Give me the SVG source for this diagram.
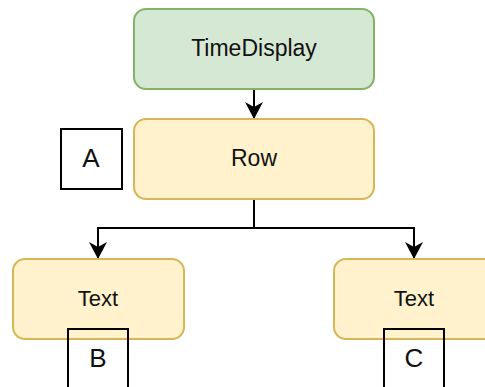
<svg xmlns="http://www.w3.org/2000/svg" width="485" height="387" viewBox="0 0 485 387">
  <style>
    .lbl { font-family: "Liberation Sans", Arial, sans-serif; fill: #111; text-anchor: middle; dominant-baseline: central; }
    .comp { stroke-width: 2; }
    .green { fill: #d5e8d4; stroke: #82b366; }
    .yellow { fill: #fff2cc; stroke: #d6b656; }
    .tag { fill: none; stroke: #000; stroke-width: 2; }
    .edge { fill: none; stroke: #000; stroke-width: 2; }
  </style>
  <defs>
    <marker id="arrow" viewBox="0 0 17 18" refX="16" refY="9" markerWidth="17" markerHeight="18" markerUnits="userSpaceOnUse" orient="auto">
      <path d="M0,0 L17,9 L0,18 L5,9 Z" fill="#000"/>
    </marker>
  </defs>

  <g id="connectors">
    <path class="edge" d="M254,89 V118" marker-end="url(#arrow)"/>
    <path class="edge" d="M254,199 V228 H98 V258" marker-end="url(#arrow)"/>
    <path class="edge" d="M254,228 H414 V258" marker-end="url(#arrow)"/>
  </g>

  <g id="timedisplay">
    <rect class="comp green" x="134" y="9" width="240" height="80" rx="12"/>
    <text class="lbl" x="254" y="48" font-size="23">TimeDisplay</text>
  </g>

  <g id="row">
    <rect class="comp yellow" x="134" y="119" width="240" height="80" rx="12"/>
    <text class="lbl" x="254" y="158" font-size="23">Row</text>
  </g>

  <g id="text-left">
    <rect class="comp yellow" x="13" y="259" width="171" height="80" rx="12"/>
    <text class="lbl" x="98" y="298" font-size="22">Text</text>
  </g>

  <g id="text-right">
    <rect class="comp yellow" x="334" y="259" width="171" height="80" rx="12"/>
    <text class="lbl" x="414" y="298" font-size="22">Text</text>
  </g>

  <g id="tag-a">
    <rect class="tag" x="61" y="129" width="61" height="60"/>
    <text class="lbl" x="91" y="158" font-size="26">A</text>
  </g>

  <g id="tag-b">
    <rect class="tag" x="68" y="329" width="60" height="60"/>
    <text class="lbl" x="98" y="358" font-size="26">B</text>
  </g>

  <g id="tag-c">
    <rect class="tag" x="384" y="329" width="60" height="60"/>
    <text class="lbl" x="414" y="358" font-size="26">C</text>
  </g>
</svg>
